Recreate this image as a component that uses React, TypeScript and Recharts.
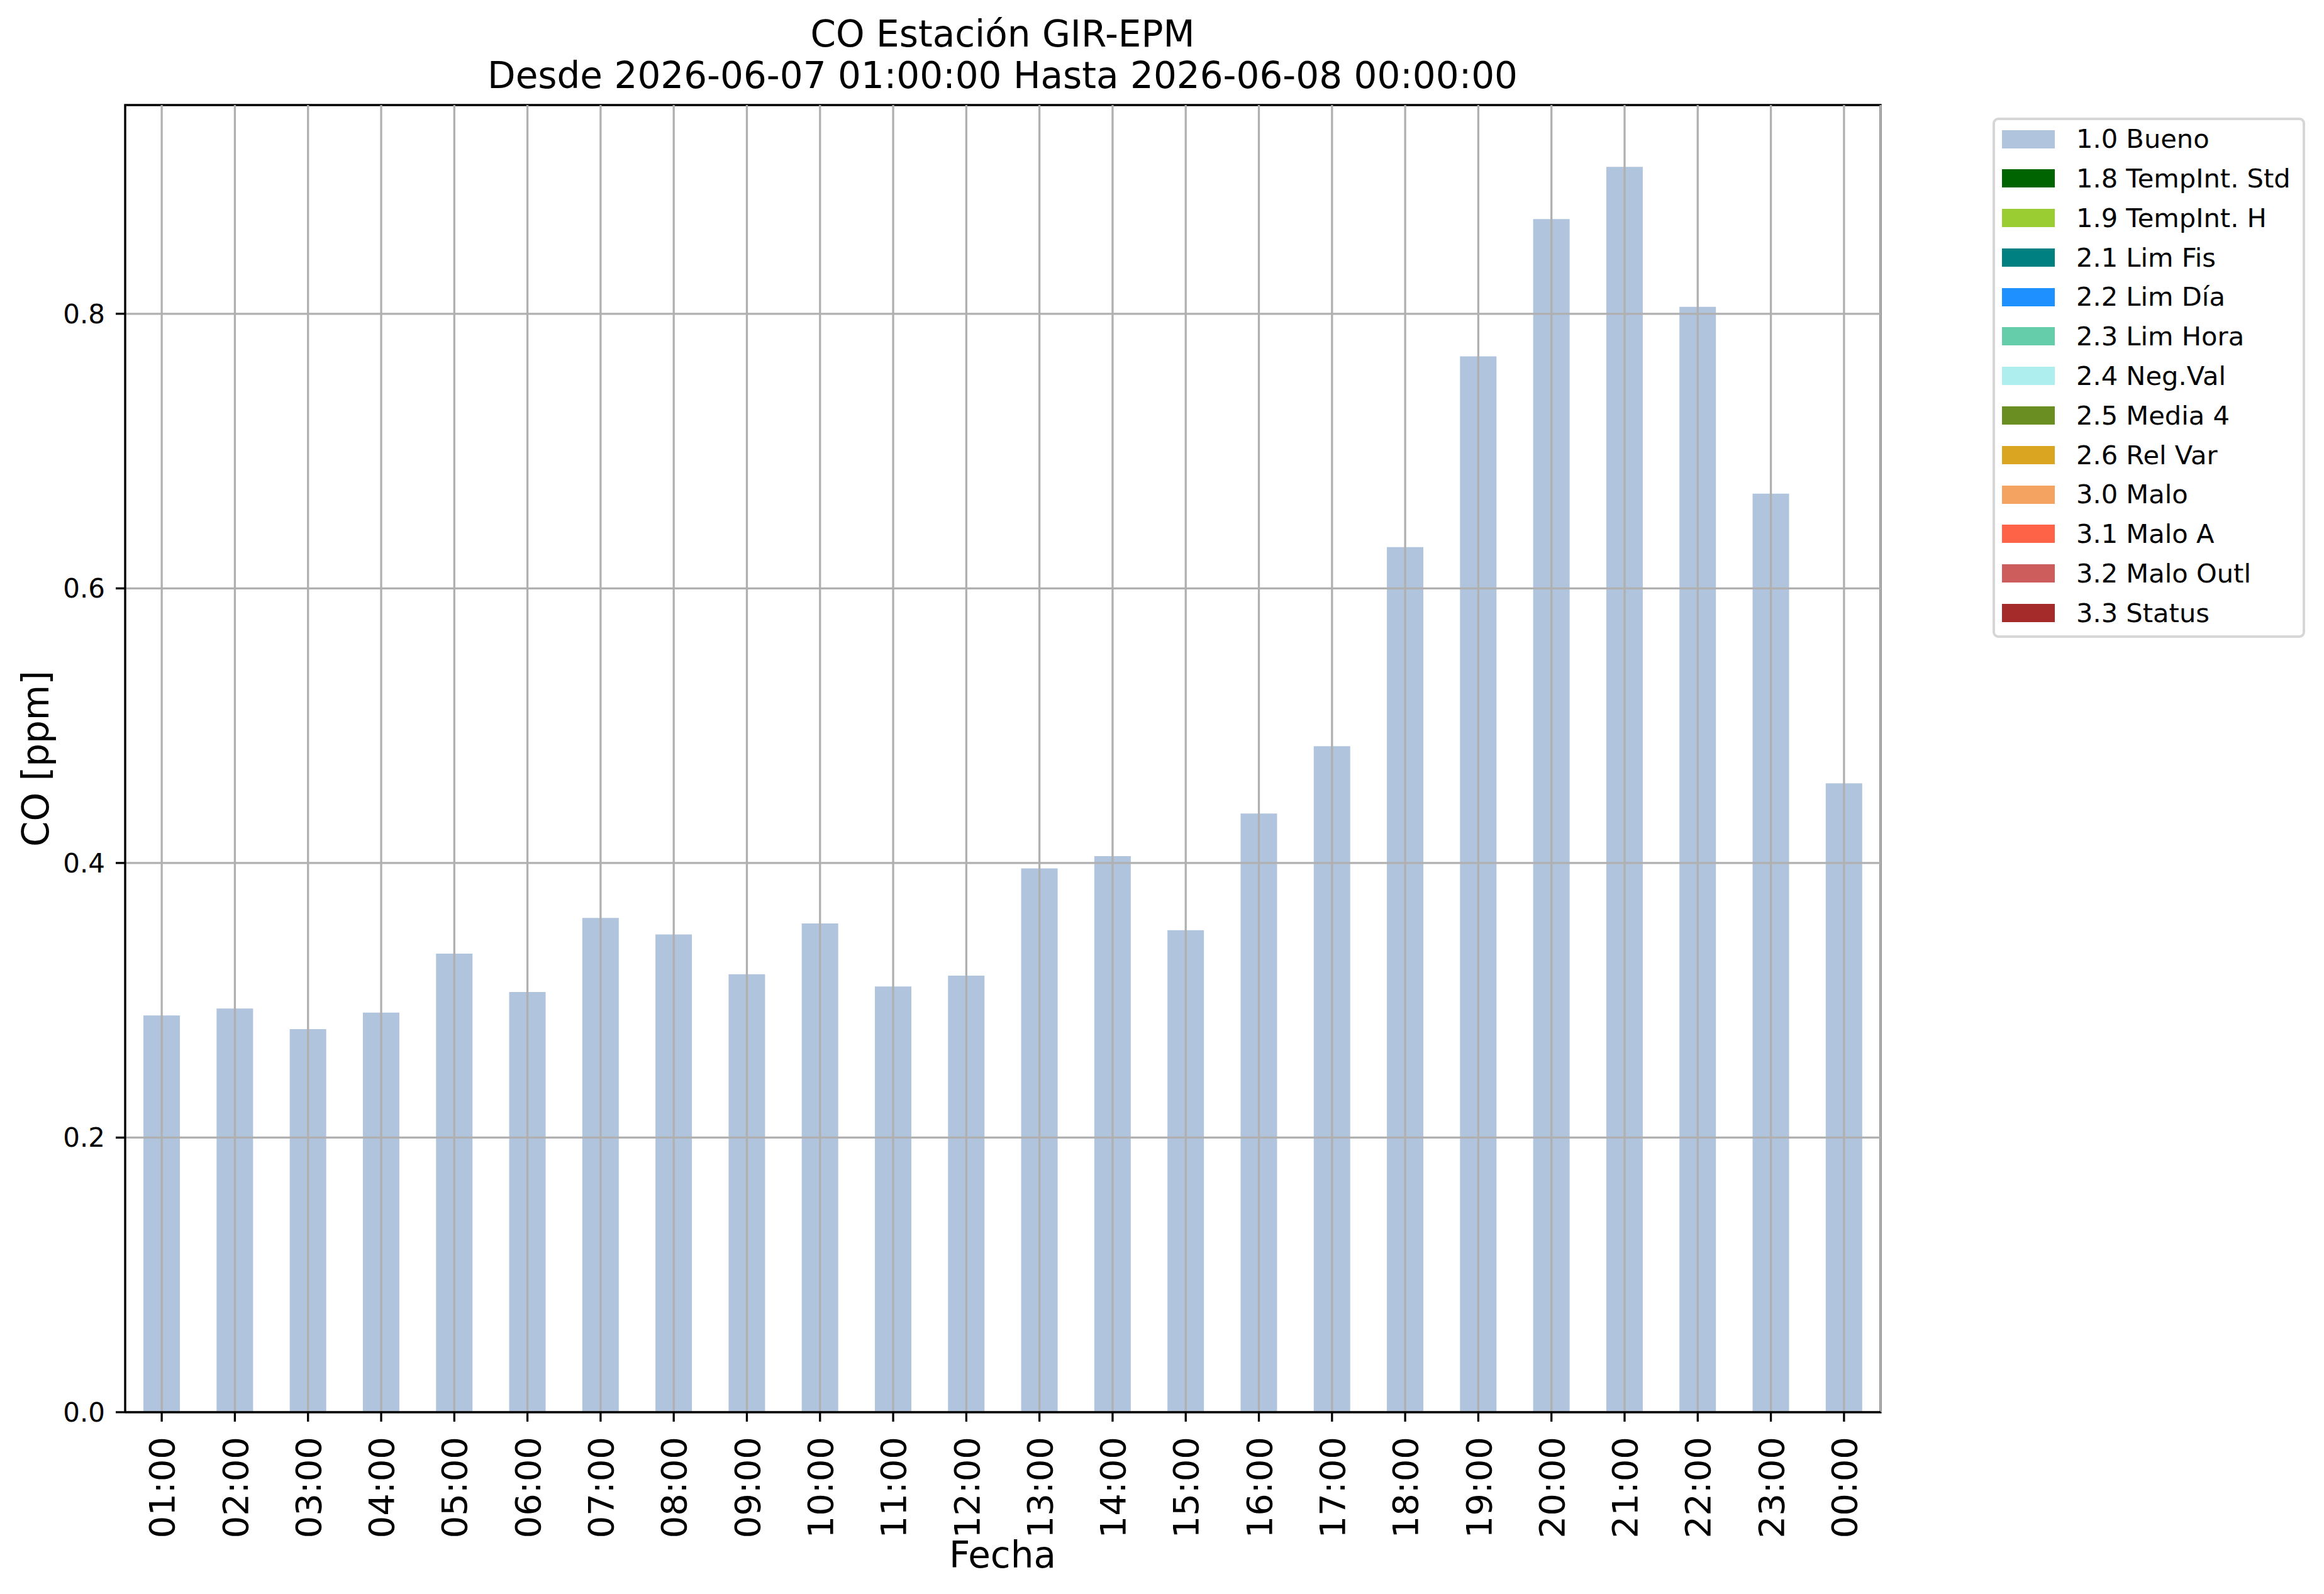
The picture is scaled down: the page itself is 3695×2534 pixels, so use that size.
import {
  BarChart,
  Bar,
  XAxis,
  YAxis,
  CartesianGrid,
  Legend,
} from "recharts";

// horas del dia (eje x)
const HOURS = [
  "01:00", "02:00", "03:00", "04:00", "05:00", "06:00",
  "07:00", "08:00", "09:00", "10:00", "11:00", "12:00",
  "13:00", "14:00", "15:00", "16:00", "17:00", "18:00",
  "19:00", "20:00", "21:00", "22:00", "23:00", "00:00",
];

// CO [ppm], flag 1.0 Bueno
const BUENO = [
  0.289, 0.294, 0.279, 0.291, 0.334, 0.306,
  0.360, 0.348, 0.319, 0.356, 0.310, 0.318,
  0.396, 0.405, 0.351, 0.436, 0.485, 0.630,
  0.769, 0.869, 0.907, 0.805, 0.669, 0.458,
];

const FLAG_LABELS = [
  "1.0 Bueno", "1.8 TempInt. Std", "1.9 TempInt. H", "2.1 Lim Fis",
  "2.2 Lim Día", "2.3 Lim Hora", "2.4 Neg.Val", "2.5 Media 4",
  "2.6 Rel Var", "3.0 Malo", "3.1 Malo A", "3.2 Malo Outl", "3.3 Status",
];

const FLAG_COLORS = [
  "#b0c4de", "#006400", "#9acd32", "#008080",
  "#1e90ff", "#66cdaa", "#afeeee", "#6b8e23",
  "#daa520", "#f4a460", "#ff6347", "#cd5c5c", "#a52a2a",
];

const Y_TICKS = [0, 0.2, 0.4, 0.6, 0.8];

const data = HOURS.map((hora, i) => ({ hora, bueno: BUENO[i] }));

const FONT = "'DejaVu Sans', sans-serif";
const GRID = "#b0b0b0";

// plot box (matches margin + axis sizes below)
const PLOT = { left: 199, top: 167, right: 2990, bottom: 2245 };

const HourTick = (props: any) => {
  const { x, y, payload } = props;
  return (
    <g transform={`translate(${x},${y})`}>
      <text
        transform="rotate(-90)"
        textAnchor="end"
        dy="0.36em"
        fontFamily={FONT}
        fontSize={56}
        fill="#000"
      >
        {payload.value}
      </text>
    </g>
  );
};

const LegendBox = () => (
  <div
    style={{
      position: "relative",
      width: 497,
      height: 827,
      boxSizing: "border-box",
      border: "4px solid #d6d6d6",
      borderRadius: 9,
      background: "#fff",
      fontFamily: FONT,
      fontSize: 41.6,
      color: "#000",
    }}
  >
    {FLAG_LABELS.map((label, i) => (
      <div
        key={label}
        style={{
          position: "absolute",
          left: 0,
          top: 30 + i * 62.8 - 31.4,
          height: 62.8,
          display: "flex",
          alignItems: "center",
          whiteSpace: "nowrap",
        }}
      >
        <div
          style={{
            marginLeft: 11,
            width: 84,
            height: 29,
            background: FLAG_COLORS[i],
          }}
        />
        <span style={{ marginLeft: 34, lineHeight: 1 }}>{label}</span>
      </div>
    ))}
  </div>
);

const App = () => {
  return (
    <div
      style={{
        position: "absolute",
        left: 0,
        top: 0,
        width: 3695,
        height: 2534,
        background: "#fff",
      }}
    >
      <BarChart
        width={3695}
        height={2534}
        data={data}
        margin={{ top: PLOT.top, right: 3695 - PLOT.right, bottom: 0, left: 0 }}
        barCategoryGap="25%"
      >
        <text x={1594} y={74} textAnchor="middle" fontFamily={FONT} fontSize={58} fill="#000">
          CO Estación GIR-EPM
        </text>
        <text x={1594} y={140} textAnchor="middle" fontFamily={FONT} fontSize={58} fill="#000">
          Desde 2026-06-07 01:00:00 Hasta 2026-06-08 00:00:00
        </text>
        <text
          x={77}
          y={1206}
          transform="rotate(-90 77 1206)"
          textAnchor="middle"
          fontFamily={FONT}
          fontSize={58}
          fill="#000"
        >
          CO [ppm]
        </text>
        <text x={1594} y={2492} textAnchor="middle" fontFamily={FONT} fontSize={58} fill="#000">
          Fecha
        </text>
        <XAxis
          dataKey="hora"
          height={2534 - PLOT.bottom}
          interval={0}
          tick={<HourTick />}
          tickSize={15}
          tickMargin={24}
          tickLine={{ stroke: "#000", strokeWidth: 3.3 }}
          axisLine={{ stroke: "#000", strokeWidth: 3.3 }}
        />
        <YAxis
          width={PLOT.left}
          domain={[0, 0.952]}
          ticks={Y_TICKS}
          tickFormatter={(v: number) => v.toFixed(1)}
          tickSize={15}
          tickMargin={17}
          tick={{ fontFamily: FONT, fontSize: 42, fill: "#000" }}
          tickLine={{ stroke: "#000", strokeWidth: 3.3 }}
          axisLine={{ stroke: "#000", strokeWidth: 3.3 }}
          allowDataOverflow
        />
        <Bar
          dataKey="bueno"
          name={FLAG_LABELS[0]}
          fill={FLAG_COLORS[0]}
          isAnimationActive={false}
        />
        <CartesianGrid
          stroke={GRID}
          strokeWidth={3.3}
          horizontalValues={Y_TICKS}
          zIndex={350}
        />
        {/* top and right spines */}
        <path
          d={`M${PLOT.left},${PLOT.top} H${PLOT.right} V${PLOT.bottom}`}
          fill="none"
          stroke="#000"
          strokeWidth={3.3}
          strokeLinecap="square"
        />
        <Legend
          layout="vertical"
          align="center"
          verticalAlign="middle"
          wrapperStyle={{ left: 3168, top: 187, width: 497, height: 827 }}
          content={() => <LegendBox />}
        />
      </BarChart>
    </div>
  );
};

export default App;
